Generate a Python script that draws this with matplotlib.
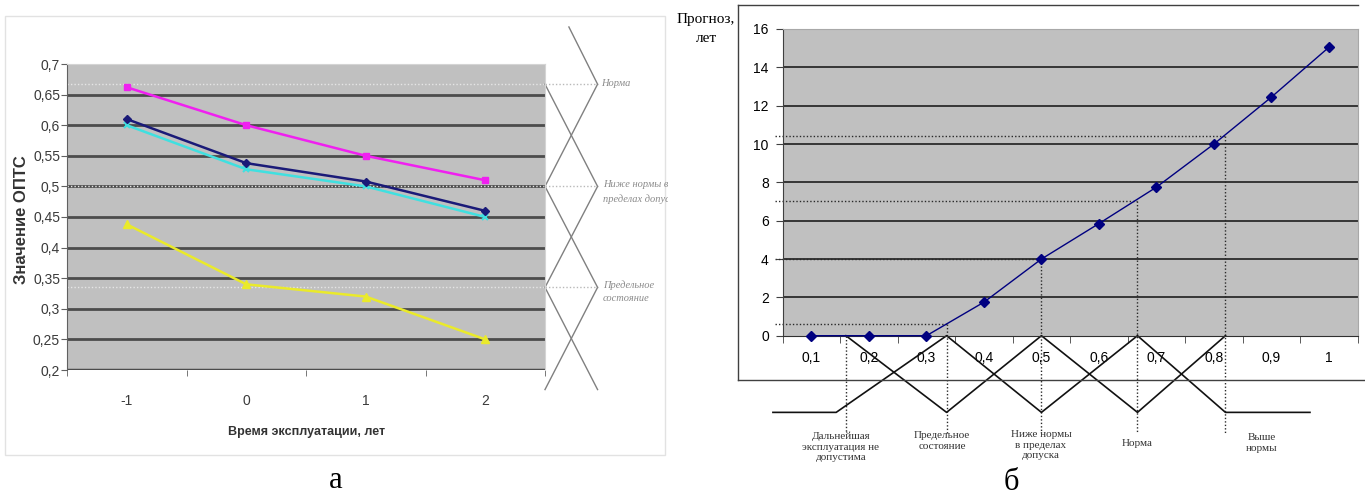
import numpy as np
import matplotlib
matplotlib.use("Agg")
import matplotlib.pyplot as plt
from matplotlib.patches import Rectangle
from matplotlib.lines import Line2D

plt.rcParams['font.family'] = ['Liberation Sans', 'DejaVu Sans']

W, H = 1365, 499

# --- данные: левый график (а) ---
years = [-1, 0, 1, 2]
opts_navy = [0.61, 0.538, 0.508, 0.46]
opts_magenta = [0.662, 0.60, 0.55, 0.51]
opts_yellow = [0.438, 0.34, 0.32, 0.25]
opts_cyan = [0.60, 0.528, 0.50, 0.45]
yticks_left = [0.2, 0.25, 0.3, 0.35, 0.4, 0.45, 0.5, 0.55, 0.6, 0.65, 0.7]
levels_left = [0.667, 0.5, 0.335]          # норма / ниже нормы / предельное
level_names_left = ["Норма", "Ниже нормы в\nпределах допуска", "Предельное\nсостояние"]

# --- данные: правый график (б) ---
opts_x = [0.1, 0.2, 0.3, 0.4, 0.5, 0.6, 0.7, 0.8, 0.9, 1.0]
forecast = [0, 0, 0, 1.75, 4.0, 5.85, 7.75, 10.0, 12.45, 15.05]
yticks_right = [0, 2, 4, 6, 8, 10, 12, 14, 16]
zone_x = [0.16, 0.335, 0.5, 0.667, 0.82]
zone_y = [0, 0.6, 4.0, 7.05, 10.4]
zone_names = ["Дальнейшая\nэксплуатация не\nдопустима", "Предельное\nсостояние",
              "Ниже нормы\nв пределах\nдопуска", "Норма", "Выше\nнормы"]
# функции принадлежности (ломаные под осью)
zigA_x = [0.033, 0.143, 0.335, 0.5, 0.667, 0.82, 0.967]
zigA_y = [-4, -4, 0, -4, 0, -4, -4]
zigB_x = [0.16, 0.335, 0.5, 0.667, 0.82]
zigB_y = [0, -4, 0, -4, 0]


def rect(x0, y0, x1, y1):
    return [x0 / W, 1 - y1 / H, (x1 - x0) / W, (y1 - y0) / H]


def fx(px):
    return px / W


def fy(py):
    return 1 - py / H


fig = plt.figure(figsize=(W / 100, H / 100), dpi=100)

# рамки диаграмм
fig.patches.append(Rectangle((fx(5), fy(455)), fx(665) - fx(5), fy(16) - fy(455),
                             transform=fig.transFigure, fill=False,
                             edgecolor='#e2e2e2', lw=1))
for xs, ys in [([738, 1358], [5, 5]), ([738, 738], [5, 380]), ([738, 1365], [380, 380])]:
    fig.add_artist(Line2D([fx(x) for x in xs], [fy(y) for y in ys],
                          transform=fig.transFigure, color='#404040', lw=1))

# ===================== левый график =====================
axL = fig.add_axes(rect(67, 64, 545, 370))
axL.set_facecolor('#c0c0c0')
axL.set_xlim(-1.5, 2.5)
axL.set_ylim(0.2, 0.7)
for v in yticks_left[1:-1]:
    axL.axhline(v, color='#4c4c4c', lw=2, zorder=1)
axL.axhline(yticks_left[0], color='#4c4c4c', lw=2.5, zorder=1)

xr = 2.94
for lv in levels_left:
    axL.plot([-1.5, 2.5], [lv, lv], ls=(0, (1, 1.5)), color='#e6e6e6', lw=1, zorder=1.5)
    axL.plot([2.5, xr], [lv, lv], ls=(0, (1, 1.5)), color='#b8b8b8', lw=1,
             clip_on=False, zorder=1.5)

axL.plot(years, opts_magenta, color='#f020f0', lw=1.8, marker='s', ms=5, zorder=3)
axL.plot(years, opts_cyan, color='#40e0e0', lw=1.8, marker='x', ms=5, mew=1.5, zorder=3)
axL.plot(years, opts_navy, color='#1a1a78', lw=1.8, marker='D', ms=4.5, zorder=3)
axL.plot(years, opts_yellow, color='#eaea2a', lw=1.8, marker='^', ms=5.5, zorder=3)

# ромбы справа
step = levels_left[0] - levels_left[1]
top = levels_left[0] + step * 0.56
bot = levels_left[2] - step
axL.plot([2.70, xr, 2.5, xr, 2.5], [top] + levels_left + [bot],
         color='#808080', lw=1, clip_on=False)
axL.plot([2.5, xr, 2.5, xr], levels_left + [bot],
         color='#808080', lw=1, clip_on=False)

# подписи уровней, обрезанные по краю левого рисунка
clip = Rectangle((0, 0), fx(668), 1, transform=fig.transFigure)
label_left_pos = [(601, 83), (603, 192), (603, 292)]
for (px, py), name in zip(label_left_pos, level_names_left):
    t = fig.text(fx(px), fy(py), name, fontsize=7.5, style='italic', color='#8a8a8a',
                 family=['Liberation Serif', 'DejaVu Serif'], ha='left', va='center',
                 linespacing=1.6)
    t.set_clip_on(True)
    t.set_clip_path(clip)

axL.set_yticks(yticks_left)
axL.set_yticklabels([f"{v:g}".replace('.', ',') for v in yticks_left],
                    fontsize=10, color='#3a3a3a')
axL.set_xticks(years)
axL.set_xticklabels([str(v) for v in years], fontsize=10, color='#3a3a3a')
axL.set_xticks([-1.5, -0.5, 0.5, 1.5, 2.5], minor=True)
axL.tick_params(axis='x', which='major', length=0, pad=17)
axL.tick_params(axis='x', which='minor', length=4, color='#606060')
axL.tick_params(axis='y', length=4, pad=1, color='#606060')
for s in ['top', 'right']:
    axL.spines[s].set_color('#d4d4d4')
axL.spines['left'].set_color('#606060')
axL.spines['bottom'].set_visible(False)

fig.text(fx(22), fy(220), "Значение ОПТС", rotation=90, fontsize=12,
         fontweight='bold', color='#333333', ha='center', va='center')
fig.text(fx(307), fy(432), "Время эксплуатации, лет", fontsize=9,
         fontweight='bold', color='#333333', ha='center', va='center')
fig.text(fx(336), fy(480), "а", fontsize=22, family=['Liberation Serif'],
         ha='center', va='center')

# ===================== правый график =====================
axR = fig.add_axes(rect(782.7, 29, 1357.7, 335.7))
axR.set_facecolor('#c0c0c0')
axR.set_xlim(0.05, 1.05)
axR.set_ylim(0, 16)
for v in yticks_right[1:-1]:
    axR.axhline(v, color='#1e1e1e', lw=1.2, zorder=1)

axR.plot(opts_x, forecast, color='#000080', lw=1, marker='D', ms=5, zorder=4,
         clip_on=False)

dot = (0, (1, 1.5))
for zx, zy in zip(zone_x, zone_y):
    if zy > 0:
        axR.plot([0.0365, zx], [zy, zy], ls=dot, color='#2a2a2a', lw=1, zorder=2,
                 clip_on=False)
    axR.plot([zx, zx], [zy, -5.1], ls=dot, color='#2a2a2a', lw=1, zorder=2,
             clip_on=False)

axR.plot(zigA_x, zigA_y, color='#111111', lw=1.2, clip_on=False)
axR.plot(zigB_x, zigB_y, color='#111111', lw=1.2, clip_on=False)

label_pos = [(841, 447), (942, 441), (1041, 445), (1137, 443), (1262, 443)]
for (px, py), name in zip(label_pos, zone_names):
    fig.text(fx(px), fy(py), name, fontsize=8, color='#333333',
             family=['Liberation Serif', 'DejaVu Serif'], ha='center', va='center',
             linespacing=1.25)

axR.set_yticks(yticks_right)
axR.set_yticklabels([str(v) for v in yticks_right], fontsize=10)
axR.set_xticks(opts_x)
axR.set_xticklabels([f"{v:g}".replace('.', ',') for v in opts_x], fontsize=10)
axR.set_xticks(np.arange(0.05, 1.06, 0.1), minor=True)
axR.tick_params(axis='x', which='major', length=0, pad=11)
axR.tick_params(axis='x', which='minor', length=5, color='#404040')
axR.tick_params(axis='y', length=5, pad=5, color='#404040')
for s in ['top', 'right']:
    axR.spines[s].set_color('#a8a8a8')
axR.spines['left'].set_color('#404040')
axR.spines['bottom'].set_color('#303030')

fig.text(fx(706), fy(20), "Прогноз,", fontsize=11, family=['Liberation Serif'],
         ha='center', va='center')
fig.text(fx(706), fy(39), "лет", fontsize=11, family=['Liberation Serif'],
         ha='center', va='center')
fig.text(fx(1011), fy(482), "б", fontsize=22, family=['Liberation Serif'],
         ha='center', va='center')

fig.savefig("out.png", dpi=100)
